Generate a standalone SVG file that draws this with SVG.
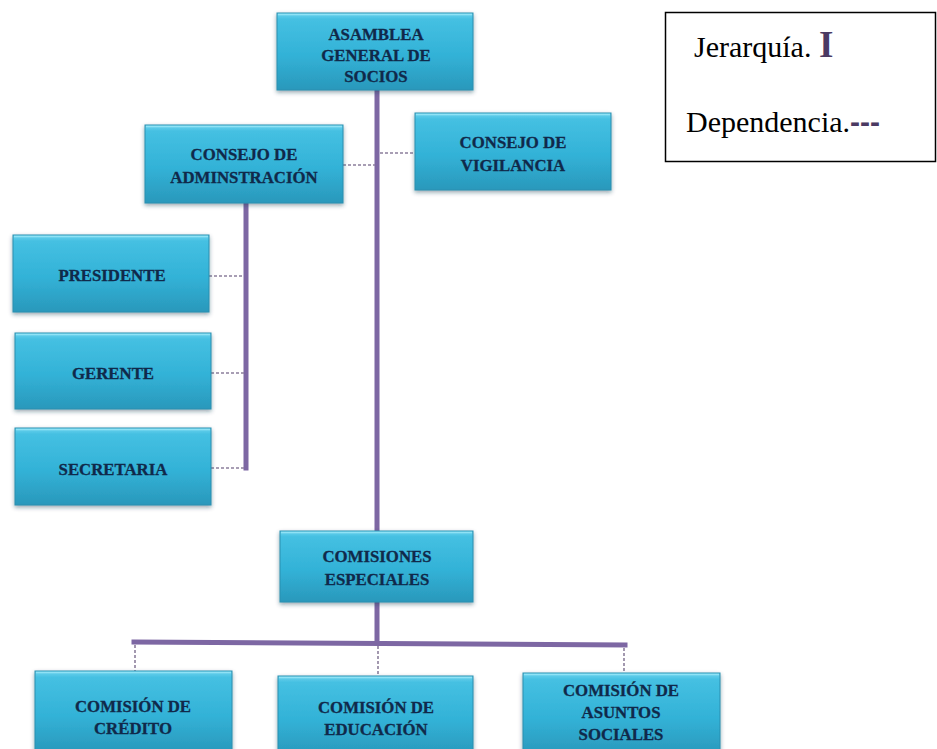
<svg xmlns="http://www.w3.org/2000/svg" width="937" height="749" viewBox="0 0 937 749">
<defs>
<linearGradient id="g" x1="0" y1="0" x2="0" y2="1">
<stop offset="0" stop-color="#6fd3ee"/>
<stop offset="0.08" stop-color="#45c0e2"/>
<stop offset="0.55" stop-color="#32b2d7"/>
<stop offset="1" stop-color="#2a98bb"/>
</linearGradient>
<filter id="sh" x="-10%" y="-10%" width="120%" height="125%">
<feDropShadow dx="0" dy="2" stdDeviation="2" flood-color="#1a3a50" flood-opacity="0.45"/>
</filter>
<style>
.box{fill:url(#g);stroke:#2b8fb0;stroke-width:1;filter:url(#sh)}
.hl{fill:none;stroke:#8fe2f5;stroke-width:1.5}
.t{font-family:"Liberation Serif","Times New Roman",serif;font-weight:bold;font-size:16.8px;fill:#10294a;stroke:#10294a;stroke-width:0.3;text-anchor:middle}
.solid{stroke:#7d67a3;stroke-width:5;fill:none;stroke-linecap:square}
.dash{stroke:#8c7f9c;stroke-width:1.6;stroke-dasharray:3 2;fill:none}
.lg{font-family:"Liberation Serif","Times New Roman",serif;font-size:30px;fill:#000}
</style>
</defs>
<rect width="937" height="749" fill="#ffffff"/>
<g id="connectors">
<line class="solid" x1="377" y1="90" x2="377" y2="643"/>
<line class="solid" x1="246" y1="203" x2="246" y2="468"/>
<line class="solid" x1="134" y1="642" x2="625" y2="645"/>
<line class="dash" x1="343" y1="165" x2="375" y2="165"/>
<line class="dash" x1="380" y1="153" x2="415" y2="153"/>
<line class="dash" x1="209" y1="276" x2="244" y2="276"/>
<line class="dash" x1="211" y1="373" x2="244" y2="373"/>
<line class="dash" x1="211" y1="468" x2="244" y2="468"/>
<line class="dash" x1="135" y1="645" x2="135" y2="671"/>
<line class="dash" x1="378" y1="646" x2="378" y2="676"/>
<line class="dash" x1="624" y1="648" x2="624" y2="673"/>
</g>
<g id="asamblea">
<rect class="box" x="277" y="13" width="196" height="77"/>
<line class="hl" x1="278" y1="14.5" x2="472" y2="14.5"/>
<text class="t" x="376" y="40">ASAMBLEA</text>
<text class="t" x="376" y="61">GENERAL DE</text>
<text class="t" x="376" y="82">SOCIOS</text>
</g>
<g id="consejo-administracion">
<rect class="box" x="145" y="125" width="198" height="78"/>
<line class="hl" x1="146" y1="126.5" x2="342" y2="126.5"/>
<text class="t" x="244" y="160">CONSEJO DE</text>
<text class="t" x="244" y="183">ADMINSTRACIÓN</text>
</g>
<g id="consejo-vigilancia">
<rect class="box" x="415" y="113" width="196" height="77"/>
<line class="hl" x1="416" y1="114.5" x2="610" y2="114.5"/>
<text class="t" x="513" y="148">CONSEJO DE</text>
<text class="t" x="513" y="171">VIGILANCIA</text>
</g>
<g id="presidente">
<rect class="box" x="13" y="235" width="196" height="77"/>
<line class="hl" x1="14" y1="236.5" x2="208" y2="236.5"/>
<text class="t" x="112" y="281">PRESIDENTE</text>
</g>
<g id="gerente">
<rect class="box" x="15" y="333" width="196" height="76"/>
<line class="hl" x1="16" y1="334.5" x2="210" y2="334.5"/>
<text class="t" x="113" y="379">GERENTE</text>
</g>
<g id="secretaria">
<rect class="box" x="15" y="428" width="196" height="77"/>
<line class="hl" x1="16" y1="429.5" x2="210" y2="429.5"/>
<text class="t" x="113" y="475">SECRETARIA</text>
</g>
<g id="comisiones-especiales">
<rect class="box" x="280" y="531" width="193" height="71"/>
<line class="hl" x1="281" y1="532.5" x2="472" y2="532.5"/>
<text class="t" x="377" y="562">COMISIONES</text>
<text class="t" x="377" y="585">ESPECIALES</text>
</g>
<g id="comision-credito">
<rect class="box" x="35" y="671" width="197" height="82"/>
<line class="hl" x1="36" y1="672.5" x2="231" y2="672.5"/>
<text class="t" x="133" y="712">COMISIÓN DE</text>
<text class="t" x="133" y="734">CRÉDITO</text>
</g>
<g id="comision-educacion">
<rect class="box" x="278" y="676" width="195" height="80"/>
<line class="hl" x1="279" y1="677.5" x2="472" y2="677.5"/>
<text class="t" x="376" y="713">COMISIÓN DE</text>
<text class="t" x="376" y="735">EDUCACIÓN</text>
</g>
<g id="comision-asuntos">
<rect class="box" x="523" y="673" width="197" height="82"/>
<line class="hl" x1="524" y1="674.5" x2="719" y2="674.5"/>
<text class="t" x="621" y="696">COMISIÓN DE</text>
<text class="t" x="621" y="718">ASUNTOS</text>
<text class="t" x="621" y="740">SOCIALES</text>
</g>
<g id="legend">
<rect x="665.5" y="12.5" width="270" height="149" fill="#ffffff" stroke="#000" stroke-width="1.5"/>
<text class="lg" x="694" y="57">Jerarquía. <tspan font-weight="bold" font-size="37" fill="#4b3a63">I</tspan></text>
<text class="lg" x="686" y="132">Dependencia.<tspan font-family="Liberation Sans, Arial, sans-serif" font-weight="bold" font-size="30" fill="#4b3a63">---</tspan></text>
</g>
</svg>
